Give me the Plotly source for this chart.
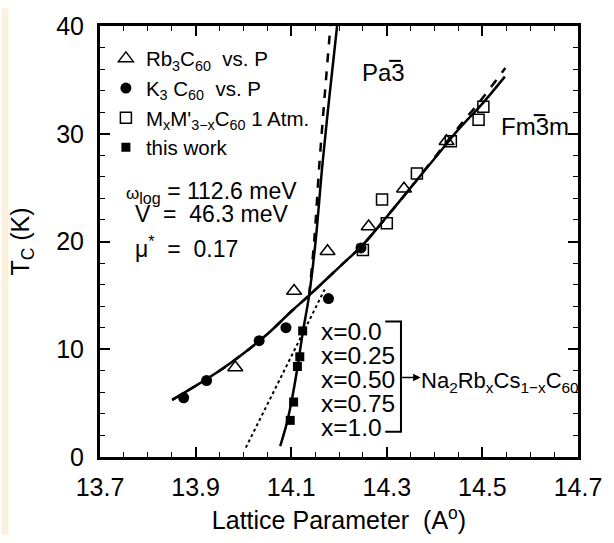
import plotly.graph_objects as go

# ---------------- data ----------------
rb3_a = [13.983, 14.106, 14.176, 14.262, 14.336, 14.425]
rb3_tc = [8.3, 15.4, 19.1, 21.4, 24.9, 29.3]

k3_a = [13.875, 13.923, 14.033, 14.089, 14.178, 14.246]
k3_tc = [5.5, 7.1, 10.8, 12.0, 14.7, 19.4]

mm_a = [14.250, 14.290, 14.300, 14.363, 14.434, 14.492, 14.502]
mm_tc = [19.2, 23.9, 21.7, 26.3, 29.3, 31.3, 32.5]

tw_a = [14.124, 14.118, 14.113, 14.105, 14.098]
tw_tc = [11.7, 9.3, 8.4, 5.1, 3.4]

# fitted curves
fcc_a = [13.851, 13.90, 13.95, 14.00, 14.05, 14.10, 14.1375, 14.20, 14.25, 14.30, 14.35, 14.40, 14.45, 14.50, 14.547]
fcc_tc = [5.3, 6.6, 8.0, 9.6, 11.4, 13.5, 15.0, 17.6, 19.7, 22.3, 25.0, 27.7, 30.4, 32.8, 35.3]
fcc2_a = [13.851, 13.90, 13.95, 14.00, 14.05, 14.10, 14.1375, 14.20, 14.25, 14.30, 14.35, 14.40, 14.45, 14.50, 14.548]
fcc2_tc = [5.3, 6.6, 8.0, 9.6, 11.4, 13.5, 15.0, 17.6, 19.7, 22.3, 25.0, 27.8, 30.6, 33.3, 36.1]

pa3_a = [14.077, 14.090, 14.100, 14.112, 14.124, 14.1375, 14.151, 14.165, 14.180, 14.196]
pa3_tc = [1.0, 3.0, 5.0, 8.0, 11.5, 15.0, 20.0, 27.0, 33.5, 40.0]
pa3d_a = [14.1375, 14.148, 14.159, 14.170, 14.182]
pa3d_tc = [15.0, 20.0, 27.2, 33.5, 40.0]

dot_a = [14.005, 14.170]
dot_tc = [0.87, 15.55]

x_labels = ["x=0.0", "x=0.25", "x=0.50", "x=0.75", "x=1.0"]

# ---------------- figure ----------------
FONT = "Liberation Sans, Arial, Helvetica, sans-serif"
L, R, T, B = 100, 28, 18, 80
W, H = 614, 543
PW, PH = W - L - R, H - T - B


def xp(px):
    return (px - L) / PW


def yp(py):
    return (H - B - py) / PH


fig = go.Figure()

fig.add_trace(go.Scatter(x=fcc2_a, y=fcc2_tc, mode="lines", line=dict(color="black", width=2.5, dash="dash", shape="spline"), showlegend=False))
fig.add_trace(go.Scatter(x=fcc_a, y=fcc_tc, mode="lines", line=dict(color="black", width=2.5, shape="spline"), showlegend=False))
fig.add_trace(go.Scatter(x=pa3d_a, y=pa3d_tc, mode="lines", line=dict(color="black", width=2.5, dash="dash", shape="spline"), showlegend=False))
fig.add_trace(go.Scatter(x=pa3_a, y=pa3_tc, mode="lines", line=dict(color="black", width=2.5, shape="spline"), showlegend=False))
fig.add_trace(go.Scatter(x=dot_a, y=dot_tc, mode="lines", line=dict(color="black", width=2, dash="dot"), showlegend=False))

fig.add_trace(go.Scatter(x=rb3_a, y=rb3_tc, mode="markers", name="Rb<sub>3</sub>C<sub>60</sub>  vs. P",
                         marker=dict(symbol="triangle-up-open", size=13, color="black", line=dict(width=1.5))))
fig.add_trace(go.Scatter(x=k3_a, y=k3_tc, mode="markers", name="K<sub>3</sub> C<sub>60</sub>  vs. P",
                         marker=dict(symbol="circle", size=11, color="black")))
fig.add_trace(go.Scatter(x=mm_a, y=mm_tc, mode="markers", name="M<sub>x</sub>M'<sub>3\u2212x</sub>C<sub>60</sub> 1 Atm.",
                         marker=dict(symbol="square-open", size=11, color="black", line=dict(width=1.5))))
fig.add_trace(go.Scatter(x=tw_a, y=tw_tc, mode="markers", name="this work",
                         marker=dict(symbol="square", size=9, color="black")))

axis_common = dict(
    showgrid=False, zeroline=False, showline=True, linecolor="black", linewidth=3,
    mirror="ticks", ticks="inside", tickcolor="black", tickwidth=1.5, ticklen=10,
    tickfont=dict(family=FONT, size=25, color="black"),
)

fig.update_xaxes(range=[13.7, 14.7], tick0=13.7, dtick=0.2, tickformat=".1f",
                 minor=dict(dtick=0.05, ticks="inside", ticklen=5, tickcolor="black", tickwidth=1),
                 title=dict(text="Lattice Parameter  (A<sup>o</sup>)", font=dict(family=FONT, size=25, color="black"), standoff=12),
                 ticklabelstandoff=6, **axis_common)
fig.update_yaxes(range=[0, 40], tick0=0, dtick=10,
                 minor=dict(dtick=2, ticks="inside", ticklen=5, tickcolor="black", tickwidth=1),
                 title=dict(text="T<sub>C</sub> (K)", font=dict(family=FONT, size=25, color="black"), standoff=20),
                 ticklabelstandoff=8, **axis_common)

ann = []


def txt(text, px, py, size=23, xanchor="left"):
    ann.append(dict(text=text, x=xp(px), y=yp(py), xref="paper", yref="paper", showarrow=False,
                    xanchor=xanchor, yanchor="middle", font=dict(family=FONT, size=size, color="black")))


txt("<span style='font-size:17px'>\u03c9</span><sub>log</sub> = 112.6 meV", 124, 190)
txt("V  =  46.3 meV", 134, 212)
txt("\u03bc<sup>*</sup>  =  0.17", 134, 246)
txt("Pa3", 364, 66, size=24)
txt("Fm3m", 506, 122, size=24)
for i, lab in enumerate(x_labels):
    txt(lab, 323, 333 + 25 * i, size=24.5)
txt("Na<sub>2</sub>Rb<sub>x</sub>Cs<sub>1\u2212x</sub>C<sub>60</sub>", 424, 386, size=22)

# arrow from bracket to formula
ann.append(dict(x=xp(426), y=yp(381), ax=-20, ay=0, xref="paper", yref="paper",
                showarrow=True, arrowhead=2, arrowsize=1, arrowwidth=1.5,
                arrowcolor="black", text=""))

shapes = [
    dict(type="rect", xref="paper", yref="paper", x0=xp(0), x1=xp(7), y0=yp(H), y1=yp(0),
         fillcolor="#fbf1dc", line=dict(width=0), layer="below"),
    dict(type="path", xref="paper", yref="paper",
         path=f"M {xp(390)} {yp(323)} L {xp(406)} {yp(323)} L {xp(406)} {yp(437)} L {xp(390)} {yp(437)}",
         line=dict(color="black", width=2)),
    # overbars on the "3" of the space-group symbols
    dict(type="line", xref="paper", yref="paper", x0=xp(394), x1=xp(406), y0=yp(54), y1=yp(54),
         line=dict(color="black", width=2)),
    dict(type="line", xref="paper", yref="paper", x0=xp(541), x1=xp(553), y0=yp(110), y1=yp(110),
         line=dict(color="black", width=2)),
]

fig.update_layout(
    width=W, height=H, margin=dict(l=L, r=R, t=T, b=B),
    paper_bgcolor="white", plot_bgcolor="white",
    font=dict(family=FONT, color="black"),
    legend=dict(x=xp(106), y=yp(31), xanchor="left", yanchor="top", bgcolor="rgba(0,0,0,0)",
                font=dict(family=FONT, size=20.5, color="black"), tracegroupgap=0, itemwidth=30),
    annotations=ann, shapes=shapes,
)

fig.write_html("out.html")
